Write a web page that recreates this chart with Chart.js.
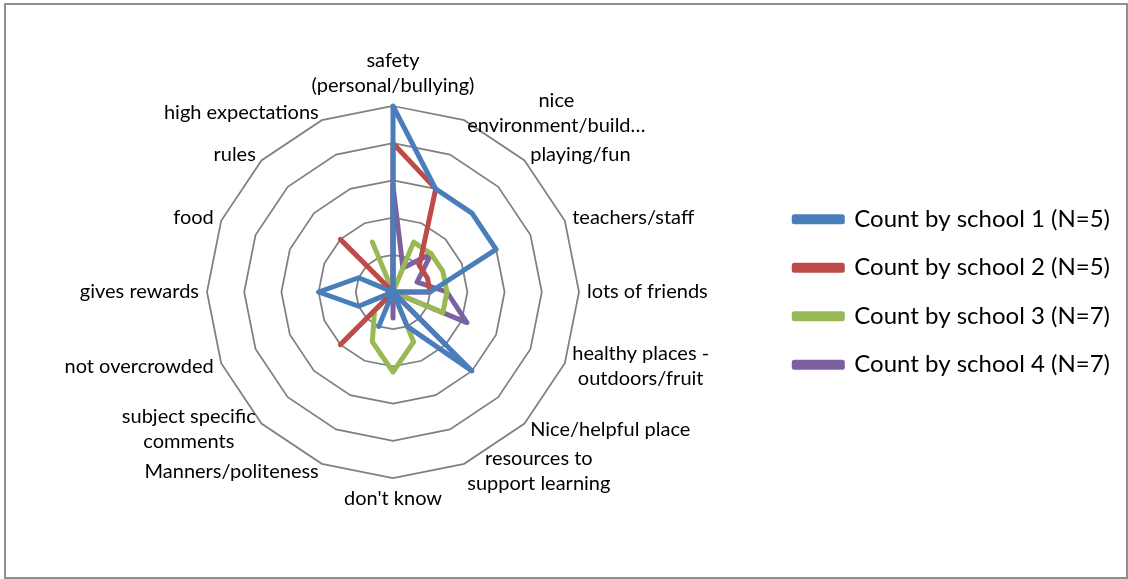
<!DOCTYPE html>
<html>
<head>
<meta charset="utf-8">
<script src="https://cdn.jsdelivr.net/npm/chart.js@4"></script>
<style>
  html, body { margin: 0; padding: 0; background: #fff; }
  #frame { position: absolute; left: 4px; top: 3px; width: 1120px; height: 572px; border: 2px solid #8f8f8f; }
  #wrap { position: absolute; left: 0; top: 0; width: 1128px; height: 579px; }
</style>
</head>
<body>
<div id="frame"></div>
<div id="wrap"><canvas id="radar" width="1128" height="579"></canvas></div>
<script>
// what pupils liked about their school, share of answers per category
const categories = [
  ['safety', '(personal/bullying)'],
  ['nice', 'environment/build…'],
  'playing/fun',
  'teachers/staff',
  'lots of friends',
  ['healthy places -', 'outdoors/fruit'],
  'Nice/helpful place',
  ['resources to', 'support learning'],
  "don't know",
  'Manners/politeness',
  ['subject specific', 'comments'],
  'not overcrowded',
  'gives rewards',
  'food',
  'rules',
  'high expectations'
];

const school1 = [1.0, 0.6, 0.6, 0.6, 0.2, 0, 0.6, 0.2, 0, 0.2, 0, 0.2, 0.4, 0.2, 0, 0];
const school2 = [0.8, 0.6, 0.2, 0.2, 0.2, 0, 0.4, 0, 0, 0, 0.4, 0, 0, 0, 0.4, 0];
const school3 = [0, 0.29, 0.29, 0.29, 0.29, 0.29, 0, 0.29, 0.43, 0.29, 0.14, 0, 0, 0.14, 0, 0.29];
const school4 = [0.57, 0.14, 0.29, 0.14, 0.29, 0.43, 0, 0, 0.14, 0, 0, 0.14, 0, 0, 0, 0];

const seriesNames = ['Count by school 1 (N=5)', 'Count by school 2 (N=5)', 'Count by school 3 (N=7)', 'Count by school 4 (N=7)'];
const seriesColors = ['#4a7ebb', '#be4b48', '#98b954', '#7d60a0'];

// labels placed the excel way: side aligned, vertically centred on the spoke end
const excelLabels = {
  id: 'excelLabels',
  afterDatasetsDraw(chart) {
    const scale = chart.scales.r;
    const c = chart.ctx;
    const lineH = 25;
    c.save();
    c.font = '20px Lato';
    c.fillStyle = '#000';
    c.textAlign = 'center';
    c.textBaseline = 'middle';
    categories.forEach((lab, i) => {
      const lines = Array.isArray(lab) ? lab : [lab];
      const w = Math.max(...lines.map(t => c.measureText(t).width));
      const h = lines.length * lineH;
      const p = scale.getPointPosition(i, scale.drawingArea + 8);
      const deg = Math.round(i * 360 / categories.length);
      let cx = p.x;
      let top = p.y - h / 2;
      if (deg > 0 && deg < 180) cx = p.x + w / 2;
      else if (deg > 180) cx = p.x - w / 2;
      if (deg === 0) top = p.y - h;
      else if (deg === 180) top = p.y;
      lines.forEach((t, k) => c.fillText(t, cx, top + lineH * (k + 0.5)));
    });
    c.restore();
  }
};

const ctx = document.getElementById('radar').getContext('2d');
new Chart(ctx, {
  type: 'radar',
  data: {
    labels: categories,
    datasets: [school1, school2, school3, school4].map((vals, i) => ({
      label: seriesNames[i],
      data: vals,
      borderColor: seriesColors[i],
      backgroundColor: seriesColors[i],
      borderWidth: 5,
      borderJoinStyle: 'round',
      borderCapStyle: 'round',
      fill: false,
      pointRadius: 0,
      pointHoverRadius: 0,
      tension: 0
    }))
  },
  options: {
    responsive: false,
    animation: false,
    layout: { padding: { top: 106, bottom: 101, left: 17, right: 8 } },
    plugins: {
      tooltip: { enabled: false },
      legend: {
        position: 'right',
        labels: {
          boxWidth: 48,
          boxHeight: 5,
          padding: 24.5,
          color: '#000',
          font: { family: 'Lato', size: 24 }
        }
      }
    },
    scales: {
      r: {
        min: 0,
        max: 1,
        ticks: { display: false, stepSize: 0.2 },
        angleLines: { display: false },
        grid: { color: '#808080', lineWidth: 1.75 },
        pointLabels: { display: false }
      }
    }
  },
  plugins: [excelLabels]
});
</script>
</body>
</html>
